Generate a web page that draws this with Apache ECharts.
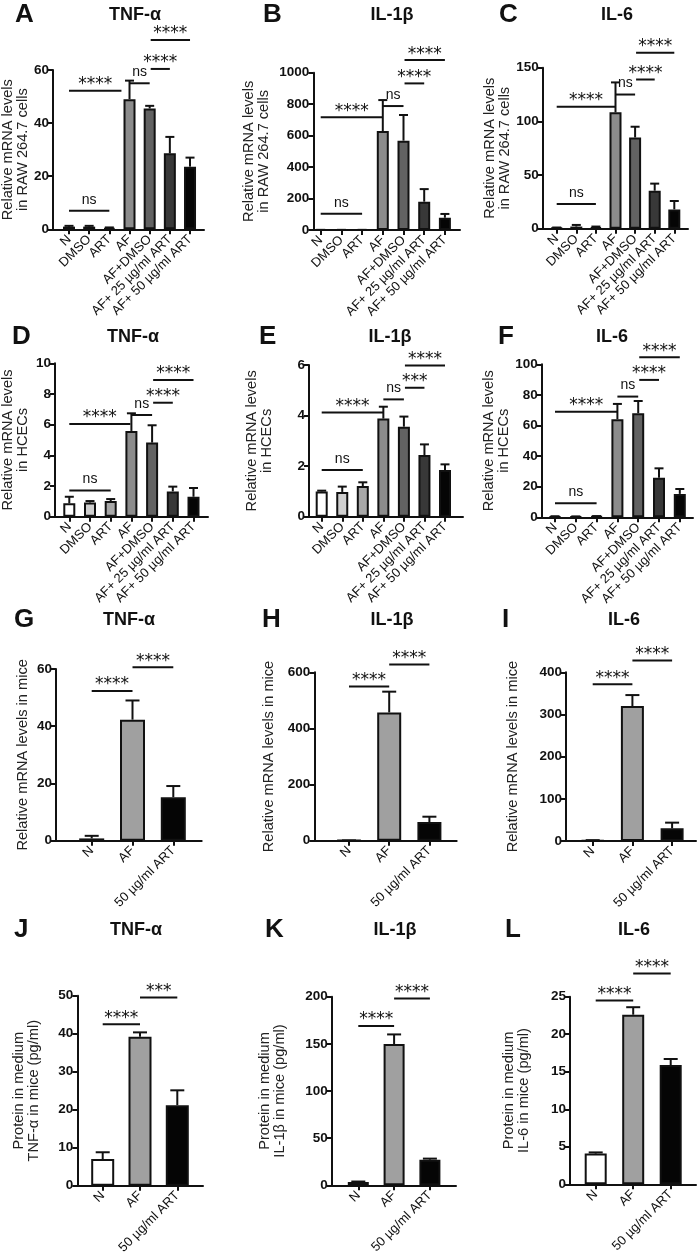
<!DOCTYPE html>
<html>
<head>
<meta charset="utf-8">
<title>Cytokine levels</title>
<script src="https://cdn.jsdelivr.net/npm/echarts@6/dist/echarts.min.js"></script>
<style>
html, body { margin: 0; padding: 0; background: #fff; }
#main { width: 700px; height: 1255px; }
</style>
</head>
<body>
<div id="main"></div>
<script>
// groups
var groups7 = ['N', 'DMSO', 'ART', 'AF', 'AF+DMSO', 'AF+ 25 µg/ml ART', 'AF+ 50 µg/ml ART'];
var groups3 = ['N', 'AF', '50 µg/ml ART'];

// A - TNF-a, RAW 264.7
var tnfRawMean = [1.0, 1.0, 0.5, 49, 45.5, 28.6, 23.6];
var tnfRawSd = [0.3, 0.3, 0.2, 7, 1, 6.2, 3.4];
var tnfRawTicks = [0, 20, 40, 60];
// comparisons: [from, to, height, label]
var tnfRawSig = [[0, 2, 7, 'ns'], [0, 2.6, 52.2, '****'], [3, 4, 55, 'ns'], [4.05, 5, 60.4, '****'], [4.05, 6, 71.3, '****']];

// B - IL-1b, RAW 264.7
var il1RawMean = [1, 1, 1, 629, 568, 180, 78];
var il1RawSd = [0, 0, 0, 197, 163, 80, 24];
var il1RawTicks = [0, 200, 400, 600, 800, 1000];
var il1RawSig = [[0, 2, 104, 'ns'], [0, 3, 716, '****'], [3, 4, 788, 'ns'], [4.05, 5, 932, '****'], [4.05, 6, 1080, '****']];

// C - IL-6, RAW 264.7
var il6RawMean = [0.8, 2, 1.5, 108.4, 85, 35.4, 18];
var il6RawSd = [0.3, 1.5, 0.5, 27.9, 10, 6.6, 7.8];
var il6RawTicks = [0, 50, 100, 150];
var il6RawSig = [[0, 2, 23, 'ns'], [0, 3, 113.7, '****'], [3, 4, 125, 'ns'], [4.05, 5, 139, '****'], [4.05, 6, 164, '****']];

// D - TNF-a, HCECs
var tnfHcecMean = [0.87, 0.92, 1.02, 5.59, 4.83, 1.65, 1.3];
var tnfHcecSd = [0.43, 0.1, 0.13, 1.15, 1.13, 0.31, 0.57];
var tnfHcecTicks = [0, 2, 4, 6, 8, 10];
var tnfHcecSig = [[0, 2, 1.7, 'ns'], [0, 2.95, 6.04, '****'], [3, 4, 6.63, 'ns'], [4.05, 5, 7.43, '****'], [4.05, 6, 8.91, '****']];

// E - IL-1b, HCECs
var il1HcecMean = [1.0, 0.98, 1.21, 3.88, 3.56, 2.44, 1.85];
var il1HcecSd = [0.03, 0.21, 0.15, 0.47, 0.4, 0.42, 0.22];
var il1HcecTicks = [0, 2, 4, 6];
var il1HcecSig = [[0, 2, 1.85, 'ns'], [0, 3, 4.12, '****'], [3, 4, 4.64, 'ns'], [4.05, 5, 5.1, '***'], [4.05, 6, 5.98, '****']];

// F - IL-6, HCECs
var il6HcecMean = [0.5, 0.5, 0.6, 64.1, 68, 25.9, 15.3];
var il6HcecSd = [0.2, 0.1, 0.2, 10, 8, 6.1, 3.2];
var il6HcecTicks = [0, 20, 40, 60, 80, 100];
var il6HcecSig = [[0, 2, 9.2, 'ns'], [0, 3, 69, '****'], [3, 4, 78.9, 'ns'], [4.05, 5, 89.8, '****'], [4.05, 6, 104.6, '****']];

// G/H/I - mRNA in mice
var tnfMiceMean = [0.8, 42.3, 15.2];
var tnfMiceSd = [0.9, 6.7, 3.9];
var tnfMiceTicks = [0, 20, 40, 60];
var tnfMiceSig = [[0, 1, 52.3, '****'], [1, 2, 60.6, '****']];

var il1MiceMean = [1, 457, 66.5];
var il1MiceSd = [0, 74, 19];
var il1MiceTicks = [0, 200, 400, 600];
var il1MiceSig = [[0, 1, 549, '****'], [1, 2, 628, '****']];

var il6MiceMean = [1.5, 320, 30];
var il6MiceSd = [0.5, 26, 13.5];
var il6MiceTicks = [0, 100, 200, 300, 400];
var il6MiceSig = [[0, 1, 371.5, '****'], [1, 2, 427.7, '****']];

// J/K/L - protein in medium
var tnfProtMean = [7.0, 39.2, 21.2];
var tnfProtSd = [1.8, 1.15, 3.9];
var tnfProtTicks = [0, 10, 20, 30, 40, 50];
var tnfProtSig = [[0, 1, 42.5, '****'], [1, 2, 49.5, '***']];

var il1ProtMean = [3.5, 149.8, 27.2];
var il1ProtSd = [0.5, 10.2, 1.1];
var il1ProtTicks = [0, 50, 100, 150, 200];
var il1ProtSig = [[0, 1, 169, '****'], [1, 2, 198, '****']];

var il6ProtMean = [4.09, 22.6, 15.9];
var il6ProtSd = [0.16, 1.0, 0.8];
var il6ProtTicks = [0, 5, 10, 15, 20, 25];
var il6ProtSig = [[0, 1, 24.5, '****'], [1, 2, 28.1, '****']];

// styles
var font = 'Liberation Sans, Arial, sans-serif';
var ink = '#111';
var colors7 = ['#ffffff', '#d0d0d0', '#a8a8a8', '#8c8c8c', '#626262', '#383838', '#050505'];
var colors3 = ['#ffffff', '#a0a0a0', '#050505'];
var nameRaw = 'Relative mRNA levels\nin RAW 264.7 cells';
var nameHcec = 'Relative mRNA levels\nin HCECs';
var nameMice = 'Relative mRNA levels in mice';

// panel layout (pixels)
var panels = [
    { tag: 'A', title: 'TNF-α', cats: groups7, mean: tnfRawMean, sd: tnfRawSd, ticks: tnfRawTicks, sig: tnfRawSig, name: nameRaw,
      axisX: 53, xEnd: 204, top: 70, bottom: 229.3, c0: 69, step: 20.17, barW: 12, cap: 9, nameGap: 20.5, tx: 135, ty: 15, lx: 15 },
    { tag: 'B', title: 'IL-1β', cats: groups7, mean: il1RawMean, sd: il1RawSd, ticks: il1RawTicks, sig: il1RawSig, name: nameRaw,
      axisX: 313.3, xEnd: 460, top: 72.7, bottom: 230, c0: 320.7, step: 20.7, barW: 12, cap: 9, nameGap: 41.6, tx: 392, ty: 15, lx: 263 },
    { tag: 'C', title: 'IL-6', cats: groups7, mean: il6RawMean, sd: il6RawSd, ticks: il6RawTicks, sig: il6RawSig, name: nameRaw,
      axisX: 542.7, xEnd: 688, top: 67.7, bottom: 228.7, c0: 556.7, step: 19.6, barW: 12, cap: 9, nameGap: 26, tx: 617, ty: 15, lx: 499 },
    { tag: 'D', title: 'TNF-α', cats: groups7, mean: tnfHcecMean, sd: tnfHcecSd, ticks: tnfHcecTicks, sig: tnfHcecSig, name: nameHcec,
      axisX: 55, xEnd: 208, top: 363.3, bottom: 516.7, c0: 69.3, step: 20.7, barW: 12, cap: 9, nameGap: 25, tx: 133, ty: 337, lx: 12 },
    { tag: 'E', title: 'IL-1β', cats: groups7, mean: il1HcecMean, sd: il1HcecSd, ticks: il1HcecTicks, sig: il1HcecSig, name: nameHcec,
      axisX: 309, xEnd: 463, top: 365, bottom: 516.7, c0: 321.7, step: 20.55, barW: 12, cap: 9, nameGap: 35, tx: 390, ty: 337, lx: 259 },
    { tag: 'F', title: 'IL-6', cats: groups7, mean: il6HcecMean, sd: il6HcecSd, ticks: il6HcecTicks, sig: il6HcecSig, name: nameHcec,
      axisX: 541.7, xEnd: 693, top: 364.3, bottom: 517.3, c0: 555, step: 20.8, barW: 12, cap: 9, nameGap: 25, tx: 612, ty: 337, lx: 498 },
    { tag: 'G', title: 'TNF-α', cats: groups3, mean: tnfMiceMean, sd: tnfMiceSd, ticks: tnfMiceTicks, sig: tnfMiceSig, name: nameMice,
      axisX: 56, xEnd: 201.7, top: 669, bottom: 840.7, c0: 91.7, step: 40.8, barW: 25, cap: 14, nameGap: 25.2, tx: 129, ty: 620, lx: 14 },
    { tag: 'H', title: 'IL-1β', cats: groups3, mean: il1MiceMean, sd: il1MiceSd, ticks: il1MiceTicks, sig: il1MiceSig, name: nameMice,
      axisX: 314.3, xEnd: 456.7, top: 672.3, bottom: 840.7, c0: 349, step: 40.2, barW: 24, cap: 14, nameGap: 37.5, tx: 392, ty: 620, lx: 262 },
    { tag: 'I', title: 'IL-6', cats: groups3, mean: il6MiceMean, sd: il6MiceSd, ticks: il6MiceTicks, sig: il6MiceSig, name: nameMice,
      axisX: 566, xEnd: 696, top: 672.3, bottom: 841, c0: 592.7, step: 39.7, barW: 23, cap: 14, nameGap: 46, tx: 624, ty: 620, lx: 502 },
    { tag: 'J', title: 'TNF-α', cats: groups3, mean: tnfProtMean, sd: tnfProtSd, ticks: tnfProtTicks, sig: tnfProtSig, name: 'Protein in medium\nTNF-α in mice (pg/ml)',
      axisX: 77.3, xEnd: 203, top: 995.7, bottom: 1185.7, c0: 102.7, step: 37.3, barW: 23, cap: 14, nameGap: 36, tx: 136, ty: 930, lx: 14 },
    { tag: 'K', title: 'IL-1β', cats: groups3, mean: il1ProtMean, sd: il1ProtSd, ticks: il1ProtTicks, sig: il1ProtSig, name: 'Protein in medium\nIL-1β in mice (pg/ml)',
      axisX: 331.7, xEnd: 456, top: 996.7, bottom: 1185.3, c0: 358.3, step: 35.8, barW: 21, cap: 14, nameGap: 44, tx: 395, ty: 930, lx: 265 },
    { tag: 'L', title: 'IL-6', cats: groups3, mean: il6ProtMean, sd: il6ProtSd, ticks: il6ProtTicks, sig: il6ProtSig, name: 'Protein in medium\nIL-6 in mice (pg/ml)',
      axisX: 570, xEnd: 696, top: 996.7, bottom: 1184.3, c0: 595.7, step: 37.5, barW: 22, cap: 14, nameGap: 39, tx: 634, ty: 930, lx: 505 }
];

// error bar: line from bar top up to mean+sd, with a cap
function renderErr(capW) {
    return function (params, api) {
        var base = api.coord([api.value(0), api.value(1)]);
        var top = api.coord([api.value(0), api.value(2)]);
        var st = { stroke: ink, lineWidth: 2 };
        return {
            type: 'group',
            children: [
                { type: 'line', shape: { x1: base[0], y1: base[1], x2: top[0], y2: top[1] }, style: st },
                { type: 'line', shape: { x1: top[0] - capW / 2, y1: top[1], x2: top[0] + capW / 2, y2: top[1] }, style: st }
            ]
        };
    };
}

// significance line + label, x given in category units
function renderSig(sig) {
    return function (params, api) {
        var s = sig[params.dataIndex];
        var p0 = api.coord([0, s[2]]);
        var band = api.size([1, 0])[0];
        var xa = p0[0] + s[0] * band;
        var xb = p0[0] + s[1] * band;
        var isNs = s[3] === 'ns';
        return {
            type: 'group',
            children: [
                { type: 'line', shape: { x1: xa, y1: p0[1], x2: xb, y2: p0[1] }, style: { stroke: ink, lineWidth: 2 } },
                { type: 'text', x: (xa + xb) / 2, y: p0[1] - (isNs ? 11 : 6),
                  style: { text: s[3], fill: ink, align: 'center', verticalAlign: 'middle', textAlign: 'center', textVerticalAlign: 'middle',
                           font: isNs ? '14px Liberation Sans' : '17px DejaVu Sans' } }
            ]
        };
    };
}

var option = {
    animation: false,
    backgroundColor: '#fff',
    grid: [], xAxis: [], yAxis: [], series: [], graphic: []
};

panels.forEach(function (p, k) {
    var n = p.cats.length;
    var h = p.bottom - p.top;
    var ymax = p.ticks[p.ticks.length - 1];
    var yStep = p.ticks[1] - p.ticks[0];
    var cols = n === 7 ? colors7 : colors3;
    var g = 2 * k;
    var axisStyle = { color: ink, width: 2 };

    // bars grid, and an axis grid starting at the y axis line
    option.grid.push({ left: p.c0 - p.step / 2, top: p.top, width: p.step * n, height: h, outerBoundsMode: 'none' });
    option.grid.push({ left: p.axisX, top: p.top, width: p.xEnd - p.axisX, height: h, outerBoundsMode: 'none' });

    option.xAxis.push({
        type: 'category', gridIndex: g, data: p.cats,
        axisLine: { show: false },
        axisTick: { show: true, alignWithLabel: true, length: 5, lineStyle: axisStyle },
        axisLabel: { rotate: 45, interval: 0, margin: 8, fontSize: 13, color: ink, fontFamily: font },
        splitLine: { show: false }
    });
    option.xAxis.push({
        type: 'value', gridIndex: g + 1, min: 0, max: 1,
        axisLine: { show: true, lineStyle: axisStyle },
        axisTick: { show: false }, axisLabel: { show: false }, splitLine: { show: false }
    });
    option.yAxis.push({ type: 'value', gridIndex: g, min: 0, max: ymax, show: false, splitLine: { show: false } });
    option.yAxis.push({
        type: 'value', gridIndex: g + 1, min: 0, max: ymax, interval: yStep,
        name: p.name, nameLocation: 'middle', nameGap: p.nameGap,
        nameTextStyle: { fontSize: 14.6, lineHeight: 15, color: '#222', fontFamily: font },
        axisLine: { show: true, lineStyle: axisStyle },
        axisTick: { show: true, length: 5, lineStyle: axisStyle },
        axisLabel: {
            fontSize: 13.5, fontWeight: 'bold', margin: 4, color: ink, fontFamily: font,
            formatter: function (v) { return String(v); }
        },
        splitLine: { show: false }
    });

    option.series.push({
        type: 'bar', xAxisIndex: g, yAxisIndex: g, barWidth: p.barW, z: 2,
        data: p.mean.map(function (v, i) {
            return { value: v, itemStyle: { color: cols[i], borderColor: ink, borderWidth: 2 } };
        })
    });
    option.series.push({
        type: 'custom', xAxisIndex: g, yAxisIndex: g, z: 3,
        renderItem: renderErr(p.cap),
        data: p.mean.map(function (v, i) { return [i, v, v + p.sd[i]]; })
    });
    option.series.push({
        type: 'custom', xAxisIndex: g, yAxisIndex: g, z: 4,
        renderItem: renderSig(p.sig),
        encode: { x: 0, y: 1 },
        data: p.sig.map(function (s) { return [0, s[2]]; })
    });

    // panel letter and title
    option.graphic.push({
        type: 'text', x: p.lx, y: p.ty,
        style: { text: p.tag, font: 'bold 26px Liberation Sans', fill: ink, textAlign: 'left', textVerticalAlign: 'middle', align: 'left', verticalAlign: 'middle' }
    });
    option.graphic.push({
        type: 'text', x: p.tx, y: p.ty,
        style: { text: p.title, font: 'bold 18px Liberation Sans', fill: ink, textAlign: 'center', textVerticalAlign: 'middle', align: 'center', verticalAlign: 'middle' }
    });
});

var chart = echarts.init(document.getElementById('main'));
chart.setOption(option);
</script>
</body>
</html>
